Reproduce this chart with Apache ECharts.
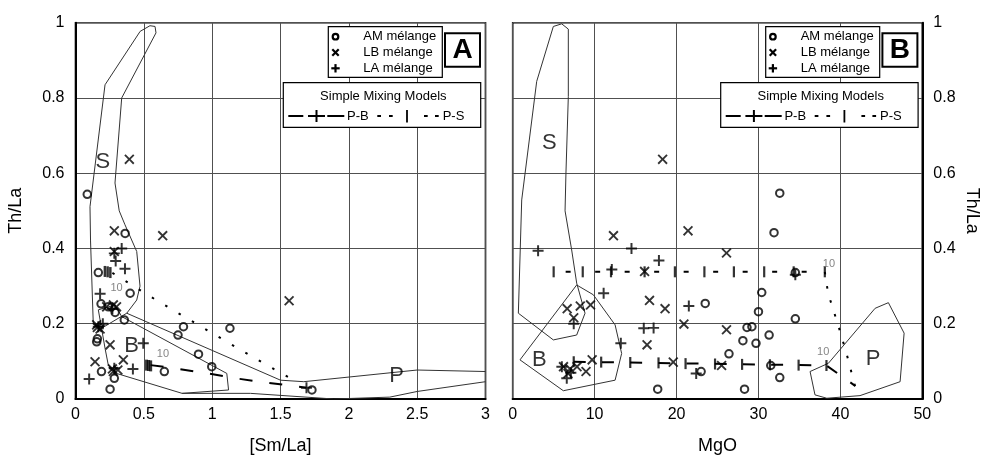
<!DOCTYPE html>
<html><head><meta charset="utf-8">
<script src="https://cdn.jsdelivr.net/npm/echarts@6/dist/echarts.min.js"></script>
<style>html,body{margin:0;padding:0;background:#fff}#c{width:985px;height:463px}</style>
</head><body><div id="c"></div>
<script>
// ---------- Panel A data: [Sm/La] vs Th/La ----------
const amA = [[0.086,0.544],[0.363,0.44],[0.167,0.336],[0.40,0.281],[0.187,0.253],[0.24,0.245],[0.29,0.23],[0.357,0.21],[0.155,0.152],[0.16,0.16],[0.284,0.055],[0.253,0.026],[0.19,0.073],[0.65,0.073],[0.79,0.192],[0.75,0.17],[1.13,0.188],[0.90,0.119],[0.997,0.086],[1.73,0.024]];
const lbA = [[0.394,0.637],[0.638,0.434],[0.284,0.447],[1.563,0.261],[0.284,0.392],[0.228,0.245],[0.277,0.25],[0.30,0.245],[0.155,0.197],[0.18,0.186],[0.16,0.19],[0.253,0.144],[0.35,0.104],[0.143,0.099],[0.277,0.073],[0.31,0.077],[0.27,0.08]];
const laA = [[0.338,0.40],[0.294,0.367],[0.362,0.346],[0.18,0.28],[0.496,0.148],[0.42,0.08],[0.10,0.053],[0.284,0.387],[0.167,0.192],[0.284,0.082],[0.27,0.24],[0.20,0.2]];
const fieldS_A = [[0.473,0.977],[0.545,0.992],[0.582,0.99],[0.589,0.973],[0.338,0.80],[0.289,0.574],[0.32,0.50],[0.362,0.463],[0.448,0.392],[0.472,0.30],[0.448,0.263],[0.375,0.228],[0.2,0.19],[0.13,0.20],[0.11,0.42],[0.106,0.511],[0.216,0.835],[0.473,0.977]];
const fieldB_A = [[0.167,0.237],[0.29,0.25],[0.338,0.219],[1.107,0.068],[1.12,0.024],[0.78,0.015],[0.30,0.068],[0.24,0.09],[0.216,0.135],[0.167,0.237]];
const fieldP_A_top = [[0.375,0.228],[1.5,0.05],[1.67,0.046],[2.5,0.077],[3.0,0.073]];
const fieldP_A_bottom = [[0.78,0.015],[1.28,0.015],[1.89,0.0],[2.3,0.005],[2.5,0.02],[3.0,0.046]];
const mixPS_A = [[0.27,0.335],[0.558,0.27],[0.79,0.22],[1.0,0.175],[1.23,0.126],[1.45,0.08],[1.62,0.045]];
const mixPB_A = [[0.55,0.09],[0.716,0.082],[0.935,0.07],[1.17,0.055],[1.41,0.043],[1.69,0.03]];
const psTicksA = [[0.215,0.339],[0.235,0.338],[0.255,0.336]];
const pbTicksA = [[0.52,0.09],[0.535,0.089],[0.55,0.088]];
const pbEndA = [[1.69,0.03]];
const labelsA = [['S',0.2,0.63],['B',0.41,0.14],['P',2.35,0.06]];
const tenA = [[0.30,0.294],[0.64,0.12]];

// ---------- Panel B data: MgO vs Th/La ----------
const amB = [[32.6,0.547],[31.9,0.442],[34.5,0.336],[30.4,0.283],[23.5,0.254],[30.0,0.232],[34.5,0.213],[28.6,0.19],[29.2,0.192],[31.3,0.17],[28.1,0.155],[29.7,0.148],[26.4,0.12],[23.0,0.073],[31.5,0.089],[32.6,0.057],[28.3,0.026],[17.7,0.026]];
const lbB = [[18.3,0.637],[12.3,0.434],[21.4,0.447],[26.1,0.388],[16.1,0.339],[16.7,0.262],[18.6,0.24],[20.9,0.199],[26.1,0.184],[16.4,0.144],[6.65,0.24],[8.25,0.247],[9.5,0.25],[7.45,0.216],[9.7,0.104],[19.6,0.098],[25.5,0.089],[6.2,0.086],[6.75,0.068],[7.85,0.086],[8.95,0.073],[7.0,0.08]];
const laB = [[3.1,0.394],[14.5,0.40],[17.85,0.368],[12.1,0.344],[11.1,0.281],[21.5,0.247],[7.45,0.2],[16.0,0.188],[17.2,0.189],[13.2,0.148],[6.6,0.055],[6.0,0.086],[22.4,0.068],[7.1,0.07],[34.5,0.33]];
const fieldS_B = [[4.96,0.99],[5.98,0.997],[6.79,0.983],[6.79,0.804],[6.5,0.6],[6.39,0.5],[7.2,0.396],[7.81,0.308],[8.83,0.228],[7.81,0.17],[4.96,0.157],[0.69,0.228],[1.1,0.529],[2.93,0.844],[4.96,0.99]];
const fieldB_B = [[7.81,0.303],[9.84,0.277],[12.5,0.197],[13.3,0.121],[12.5,0.05],[6.18,0.022],[0.89,0.104],[7.81,0.303]];
const fieldP_B = [[45.86,0.256],[44.24,0.241],[38.54,0.095],[36.3,0.073],[36.9,0.011],[38.34,0.002],[42.4,0.009],[47.29,0.046],[47.78,0.175],[45.86,0.256]];
const mixPS_B_flat = [[5.0,0.338],[38.1,0.338]];
const mixPS_B_down = [[38.1,0.338],[38.5,0.281],[39.76,0.194],[40.8,0.117],[41.8,0.033]];
const mixPB_B = [[7.45,0.099],[38.3,0.089],[41.8,0.035]];
const psTicksB = [[5.0,0.338],[8.55,0.338],[12.0,0.338],[16.1,0.338],[19.8,0.338],[23.4,0.338],[27.0,0.338],[30.7,0.338],[34.3,0.338],[38.1,0.338]];
const pbTicksB = [[7.45,0.099],[10.8,0.098],[14.35,0.097],[17.8,0.096],[21.1,0.094],[24.7,0.093],[28.0,0.092],[31.4,0.091],[34.9,0.09],[38.3,0.089]];
const labelsB = [['S',4.47,0.68],['B',3.25,0.104],['P',44.0,0.106]];
const tenB = [[38.6,0.36],[37.9,0.125]];

// ---------- chart ----------
const FONT = 'Liberation Sans, Arial, Helvetica, sans-serif';
function crossPath(a) {
  return 'path://M-' + a + ',-5L' + a + ',-5L' + a + ',-' + a + 'L5,-' + a + 'L5,' + a + 'L' + a + ',' + a + 'L' + a + ',5L-' + a + ',5L-' + a + ',' + a + 'L-5,' + a + 'L-5,-' + a + 'L-' + a + ',-' + a + 'Z';
}
const plusPath = crossPath(0.9);
const xPath = crossPath(0.75);

function scatter(data, i, kind) {
  const s = {type:'scatter', xAxisIndex:i, yAxisIndex:i, data:data, silent:true, z:5};
  if (kind === 'am') { s.symbol='circle'; s.symbolSize=7.5; s.itemStyle={color:'rgba(0,0,0,0)', borderColor:'#000', borderWidth:2}; }
  if (kind === 'lb') { s.symbol=xPath; s.symbolSize=12.5; s.symbolRotate=45; s.itemStyle={color:'#000'}; }
  if (kind === 'la') { s.symbol=plusPath; s.symbolSize=11; s.itemStyle={color:'#000'}; }
  return s;
}
function line(data, i, opts) {
  return Object.assign({type:'line', xAxisIndex:i, yAxisIndex:i, data:data, symbol:'none', silent:true, z:3,
    lineStyle:{color:'#333', width:1}}, opts || {});
}
function ticks(data, i, size) {
  return {type:'scatter', xAxisIndex:i, yAxisIndex:i, data:data, symbol:'rect', symbolSize:size || [2,10], silent:true, itemStyle:{color:'#000'}, z:4};
}
function textMarks(arr, i, size, color) {
  return {type:'scatter', xAxisIndex:i, yAxisIndex:i, silent:true, z:6, symbolSize:1, itemStyle:{color:'rgba(0,0,0,0)'},
    data: arr.map(a => ({name:a[0], value:[a[1],a[2]]})),
    label:{show:true, position:'inside', formatter:p=>p.name, fontFamily:FONT, fontSize:size, color:color}};
}
function tenMarks(arr, i) {
  return textMarks(arr.map(a => ['10', a[0], a[1]]), i, 11, '#666');
}

function legendGraphics(dx, letter) {
  const g = [];
  const L = (x1,y1,x2,y2,w) => g.push({type:'line', shape:{x1:x1+dx,y1:y1,x2:x2+dx,y2:y2}, style:{stroke:'#000', lineWidth:w||1.5}, z:100});
  const T = (txt,x,y,size,align,weight) => g.push({type:'text', x:x+dx, y:y, style:{text:txt, font:(weight||'normal')+' '+size+'px '+FONT, fill:'#000', textAlign:align||'left', textVerticalAlign:'middle', verticalAlign:'middle'}, z:101});
  g.push({type:'rect', shape:{x:328.3+dx, y:26.7, width:114, height:50.6}, style:{fill:'#fff', stroke:'#000', lineWidth:1.2}, z:99});
  g.push({type:'circle', shape:{cx:335.5+dx, cy:36.7, r:2.8}, style:{fill:'#fff', stroke:'#000', lineWidth:2.2}, z:100});
  L(332.3,49.3,338.7,55.7,2.2); L(332.3,55.7,338.7,49.3,2.2);
  L(331.3,68.3,339.7,68.3,2.2); L(335.5,64.1,335.5,72.5,2.2);
  T('AM mélange',363.3,36.7,13); T('LB mélange',363.3,52.5,13); T('LA mélange',363.3,68.3,13);
  g.push({type:'rect', shape:{x:445+dx, y:33.3, width:35, height:33.4}, style:{fill:'#fff', stroke:'#000', lineWidth:2}, z:99});
  T(letter,462.5,50.5,28,'center','bold');
  g.push({type:'rect', shape:{x:283.3+dx, y:82.7, width:197.4, height:44.6}, style:{fill:'#fff', stroke:'#000', lineWidth:1.2}, z:99});
  T('Simple Mixing Models',383.3,96,13,'center');
  const ry = 116;
  L(288.3,ry,303.3,ry,2); L(308,ry,325,ry,2); L(316.5,110,316.5,122,2); L(327.3,ry,344.3,ry,2);
  T('P-B',347,ry,13);
  L(377.3,ry,381,ry,2); L(389,ry,392.7,ry,2);
  L(407,110,407,122.5,1.8);
  L(424,ry,427.7,ry,2); L(435,ry,438.7,ry,2);
  T('P-S',442.7,ry,13);
  return g;
}

const axisCommon = {
  axisLine:{show:true, onZero:false, lineStyle:{color:'#000', width:2}},
  axisTick:{show:false},
  axisLabel:{color:'#000', fontFamily:FONT, fontSize:16, margin:11},
  splitLine:{show:true, lineStyle:{color:'#505050', width:1}},
  nameTextStyle:{color:'#000', fontFamily:FONT, fontSize:18}
};

const option = {
  animation:false,
  backgroundColor:'#fff',
  grid:[
    {left:75.5, top:22.7, width:410, height:376.3, show:true, borderColor:'#000', borderWidth:1.6, backgroundColor:'#fff'},
    {left:512.7, top:22.7, width:409.6, height:376.3, show:true, borderColor:'#000', borderWidth:1.6, backgroundColor:'#fff'}
  ],
  xAxis:[
    Object.assign({}, axisCommon, {type:'value', gridIndex:0, min:0, max:3, interval:0.5, name:'[Sm/La]', nameLocation:'middle', nameGap:38, axisLabel:Object.assign({}, axisCommon.axisLabel, {margin:8})}),
    Object.assign({}, axisCommon, {type:'value', gridIndex:1, min:0, max:50, interval:10, name:'MgO', nameLocation:'middle', nameGap:38, axisLabel:Object.assign({}, axisCommon.axisLabel, {margin:8})})
  ],
  yAxis:[
    Object.assign({}, axisCommon, {type:'value', gridIndex:0, min:0, max:1, interval:0.2, position:'left', name:'Th/La', nameLocation:'middle', nameGap:50, nameRotate:90}),
    Object.assign({}, axisCommon, {type:'value', gridIndex:1, min:0, max:1, interval:0.2, position:'right', name:'Th/La', nameLocation:'middle', nameGap:41, nameRotate:-90})
  ],
  graphic: legendGraphics(0,'A').concat(legendGraphics(437.4,'B')),
  series:[
    line(fieldS_A,0), line(fieldB_A,0), line(fieldP_A_top,0), line(fieldP_A_bottom,0),
    line(mixPS_A,0,{lineStyle:{color:'#000', width:2, type:[2.5,13]}}),
    line(mixPB_A,0,{lineStyle:{color:'#000', width:2, type:[13,17]}}),
    ticks(psTicksA,0,[2.5,11]), ticks(pbTicksA,0,[3,11]), scatter(pbEndA,0,'la'),
    scatter(amA,0,'am'), scatter(lbA,0,'lb'), scatter(laA,0,'la'),
    textMarks(labelsA,0,22,'#000'), tenMarks(tenA,0),

    line(fieldS_B,1), line(fieldB_B,1), line(fieldP_B,1),
    line(mixPS_B_flat,1,{lineStyle:{color:'#000', width:2, type:[5,24.5], dashOffset:-12}}),
    line(mixPS_B_down,1,{lineStyle:{color:'#000', width:2, type:[2.5,12]}}),
    line(mixPB_B,1,{lineStyle:{color:'#000', width:2, type:[12,16.2]}}),
    ticks(psTicksB,1,[2.2,11]), ticks(pbTicksB,1,[2.2,11]),
    scatter(amB,1,'am'), scatter(lbB,1,'lb'), scatter(laB,1,'la'),
    textMarks(labelsB,1,22,'#000'), tenMarks(tenB,1)
  ]
};
const chart = echarts.init(document.getElementById('c'));
chart.setOption(option);
</script>
</body></html>
